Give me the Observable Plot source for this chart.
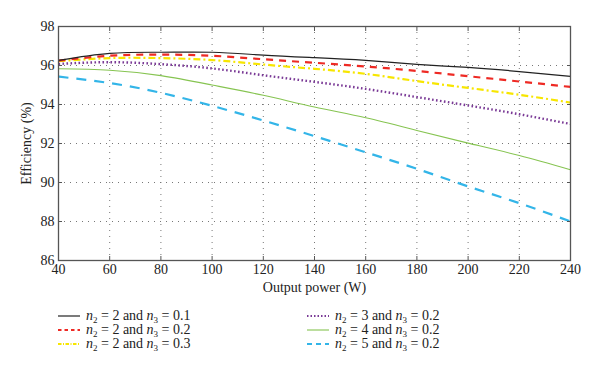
<!DOCTYPE html>
<html>
<head>
<meta charset="utf-8">
<script src="https://cdn.jsdelivr.net/npm/d3@7"></script>
<script src="https://cdn.jsdelivr.net/npm/@observablehq/plot@0.6"></script>
<style>
  html, body { margin: 0; padding: 0; background: #fff; }
  #chart { width: 600px; }
  #chart svg, #chart svg text { font-family: "Liberation Serif", "DejaVu Serif", "Times New Roman", serif !important; }
  .legend { position: relative; width: 600px; height: 74px; font-family: "Liberation Serif", "DejaVu Serif", "Times New Roman", serif; font-size: 14px; color: #222; }
  .legend .item { position: absolute; display: flex; align-items: center; white-space: nowrap; line-height: 14px; }
  .legend svg { margin-right: 6px; }
  .legend sub { font-size: 9px; vertical-align: -3px; line-height: 0; }
</style>
</head>
<body>
<div id="chart"></div>
<div class="legend" id="legend"></div>
<script>
// Data
const power = [40, 60, 80, 100, 120, 140, 160, 180, 200, 220, 240];
const eff_n2_2_n3_01 = [96.26, 96.62, 96.68, 96.68, 96.53, 96.40, 96.26, 96.06, 95.90, 95.69, 95.44];
const eff_n2_2_n3_02 = [96.25, 96.50, 96.56, 96.50, 96.32, 96.14, 95.95, 95.72, 95.45, 95.18, 94.90];
const eff_n2_2_n3_03 = [96.22, 96.38, 96.38, 96.28, 96.05, 95.83, 95.57, 95.20, 94.85, 94.50, 94.10];
const eff_n2_3_n3_02 = [96.08, 96.17, 96.07, 95.85, 95.50, 95.16, 94.80, 94.38, 93.95, 93.50, 93.00];
const eff_n2_4_n3_02 = [95.83, 95.76, 95.48, 95.00, 94.47, 93.87, 93.32, 92.67, 92.02, 91.38, 90.65];
const eff_n2_5_n3_02 = [95.43, 95.10, 94.60, 93.93, 93.18, 92.38, 91.55, 90.70, 89.80, 88.94, 88.00];
const n2Values = [2, 2, 2, 3, 4, 5];
const n3Values = ["0.1", "0.2", "0.3", "0.2", "0.2", "0.2"];
const xTicks = [40, 60, 80, 100, 120, 140, 160, 180, 200, 220, 240];
const yTicks = [86, 88, 90, 92, 94, 96, 98];

const seriesValues = [eff_n2_2_n3_01, eff_n2_2_n3_02, eff_n2_2_n3_03, eff_n2_3_n3_02, eff_n2_4_n3_02, eff_n2_5_n3_02];
const styles = [
  {stroke: "#222222", strokeWidth: 1.2, dash: null},
  {stroke: "#ee2a24", strokeWidth: 2.2, dash: "7,6"},
  {stroke: "#f7e600", strokeWidth: 2.2, dash: "7,3,2,3"},
  {stroke: "#7a3a96", strokeWidth: 2.4, dash: "1.6,2.4"},
  {stroke: "#86c451", strokeWidth: 1.1, dash: null},
  {stroke: "#33b5e8", strokeWidth: 2.2, dash: "10,8"}
];

const rows = [];
seriesValues.forEach((vals, i) => vals.forEach((v, j) => rows.push({series: i, power: power[j], eff: v})));

const marks = [
  Plot.gridX(xTicks, {stroke: "#777", strokeOpacity: 1, strokeDasharray: "1,5"}),
  Plot.gridY(yTicks, {stroke: "#777", strokeOpacity: 1, strokeDasharray: "1,5"}),
];
[5, 4, 3, 2, 1, 0].forEach(i => {
  const s = styles[i];
  marks.push(Plot.line(rows.filter(d => d.series === i), {
    x: "power", y: "eff", curve: "natural",
    stroke: s.stroke, strokeWidth: s.strokeWidth, strokeDasharray: s.dash || undefined,
    strokeLinecap: "butt"
  }));
});
marks.push(
  Plot.frame({stroke: "#555", strokeWidth: 1.3}),
  Plot.axisX(xTicks, {anchor: "bottom", tickSize: -4, tickPadding: 8, stroke: "#555",
    label: "Output power (W)", labelAnchor: "center", labelArrow: "none", labelOffset: 31}),
  Plot.axisX(xTicks, {anchor: "top", tickSize: -4, stroke: "#555", tickFormat: () => "", label: null}),
  Plot.axisY(yTicks, {anchor: "left", tickSize: -4, tickPadding: 8, stroke: "#555",
    label: "Efficiency (%)", labelAnchor: "center", labelArrow: "none", labelOffset: 37}),
  Plot.axisY(yTicks, {anchor: "right", tickSize: -4, stroke: "#555", tickFormat: () => "", label: null})
);

const chart = Plot.plot({
  width: 600, height: 300,
  marginTop: 26, marginBottom: 40, marginLeft: 58, marginRight: 30,
  x: {domain: [40, 240]},
  y: {domain: [86, 98]},
  style: {fontFamily: "'Liberation Serif', 'DejaVu Serif', serif", fontSize: "14px", color: "#222", background: "#fff"},
  marks
});
document.getElementById("chart").appendChild(chart);

// Legend
const legend = document.getElementById("legend");
const positions = [[58, 9], [58, 23], [58, 37], [307, 9], [307, 23], [307, 37]];
n2Values.forEach((n2, i) => {
  const s = styles[i];
  const item = document.createElement("div");
  item.className = "item";
  item.style.left = positions[i][0] + "px";
  item.style.top = positions[i][1] + "px";
  const dash = s.dash ? (i === 3 ? "1.5,2" : s.dash.split(",").map(v => v * 0.5).join(",")) : null;
  item.innerHTML = `<svg width="22" height="10"><line x1="0" x2="22" y1="5" y2="5" stroke="${s.stroke}" stroke-width="${Math.min(s.strokeWidth, 1.8)}" ${dash ? `stroke-dasharray="${dash}"` : ""}/></svg>` +
    `<span><i>n</i><sub>2</sub> = ${n2} and <i>n</i><sub>3</sub> = ${n3Values[i]}</span>`;
  legend.appendChild(item);
});
</script>
</body>
</html>
